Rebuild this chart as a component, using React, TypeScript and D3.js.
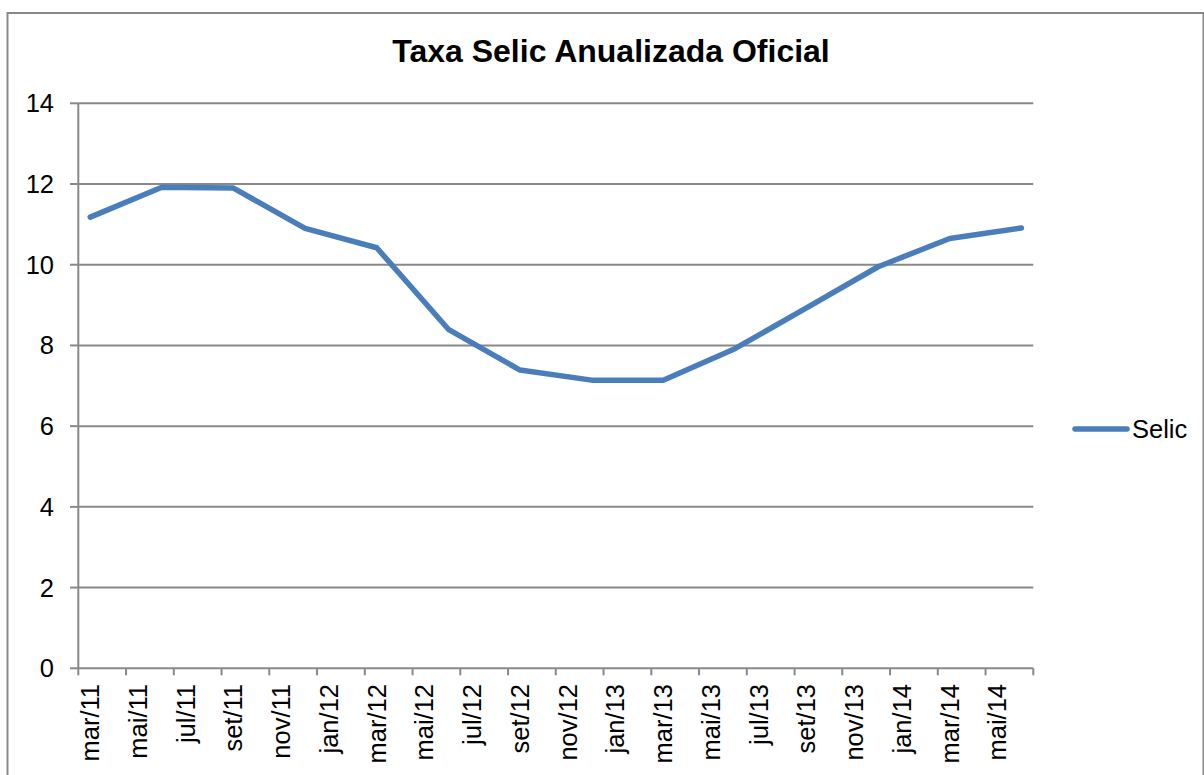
import React from "react";
import * as d3 from "d3";

const title = "Taxa Selic Anualizada Oficial";
const seriesName = "Selic";
// quarterly observations (year, month 1-12)
const obsDates: [number, number][] = [
  [2011, 3], [2011, 6], [2011, 9], [2011, 12],
  [2012, 3], [2012, 6], [2012, 9], [2012, 12],
  [2013, 3], [2013, 6], [2013, 9], [2013, 12],
  [2014, 3], [2014, 6],
];
const selicValues = [11.18, 11.92, 11.9, 10.9, 10.42, 8.4, 7.39, 7.14, 7.14, 7.92, 8.93, 9.95, 10.65, 10.91];
const tickLabels = [
  "mar/11", "mai/11", "jul/11", "set/11", "nov/11", "jan/12", "mar/12", "mai/12", "jul/12", "set/12",
  "nov/12", "jan/13", "mar/13", "mai/13", "jul/13", "set/13", "nov/13", "jan/14", "mar/14", "mai/14",
];
const yTicks = [0, 2, 4, 6, 8, 10, 12, 14];

const startYear = 2011, startMonth = 3;
const monthIndex = (y: number, m: number) => (y - startYear) * 12 + (m - startMonth);
const totalMonths = tickLabels.length * 2;

export default function App() {
  const W = 1204, H = 775;
  const left = 78.3, right = 1033.3, top = 103.3, bottom = 668.3;
  const x = d3.scaleLinear().domain([0, totalMonths]).range([left, right]);
  const y = d3.scaleLinear().domain([0, 14]).range([bottom, top]);
  const pts = obsDates.map((d, i) => [x(monthIndex(d[0], d[1]) + 0.5), y(selicValues[i])] as [number, number]);
  const line = d3.line()(pts) || "";
  const grid = "#898989";
  const blue = "#4a7ebb";
  const font = "'Liberation Sans', Arial, sans-serif";
  const fs = 25.5;
  return (
    <svg width={W} height={H} style={{ position: "absolute", left: 0, top: 0, display: "block" }} fontFamily={font}>
      <rect x={0} y={0} width={W} height={H} fill="#fff" />
      <rect x={7.5} y={13} width={1196} height={800} fill="none" stroke={grid} strokeWidth={2} />
      <text x={611} y={62} textAnchor="middle" fontSize={32} fontWeight="bold" fill="#000">{title}</text>
      {yTicks.map(t => (
        <g key={t}>
          {t > 0 && <line x1={left} x2={right} y1={y(t)} y2={y(t)} stroke={grid} strokeWidth={2} />}
          <line x1={70} x2={left} y1={y(t)} y2={y(t)} stroke={grid} strokeWidth={2} />
          <text x={54} y={y(t) + 9} textAnchor="end" fontSize={fs} fill="#000">{t}</text>
        </g>
      ))}
      <line x1={left} x2={left} y1={top} y2={bottom} stroke={grid} strokeWidth={2} />
      <line x1={left} x2={right} y1={bottom} y2={bottom} stroke={grid} strokeWidth={2} />
      {d3.range(tickLabels.length + 1).map(i => (
        <line key={i} x1={x(i * 2)} x2={x(i * 2)} y1={bottom} y2={bottom + 7} stroke={grid} strokeWidth={2} />
      ))}
      {tickLabels.map((l, i) => {
        const cx = x(i * 2 + 0.5);
        return (
          <text key={l} transform={`translate(${cx + 9},${684}) rotate(-90)`} textAnchor="end" fontSize={fs} fill="#000">{l}</text>
        );
      })}
      <path d={line} fill="none" stroke={blue} strokeWidth={5.5} strokeLinejoin="round" strokeLinecap="round" />
      <line x1={1075} x2={1127} y1={429} y2={429} stroke={blue} strokeWidth={5.5} strokeLinecap="round" />
      <text x={1132} y={438} fontSize={fs} fill="#000">{seriesName}</text>
    </svg>
  );
}
